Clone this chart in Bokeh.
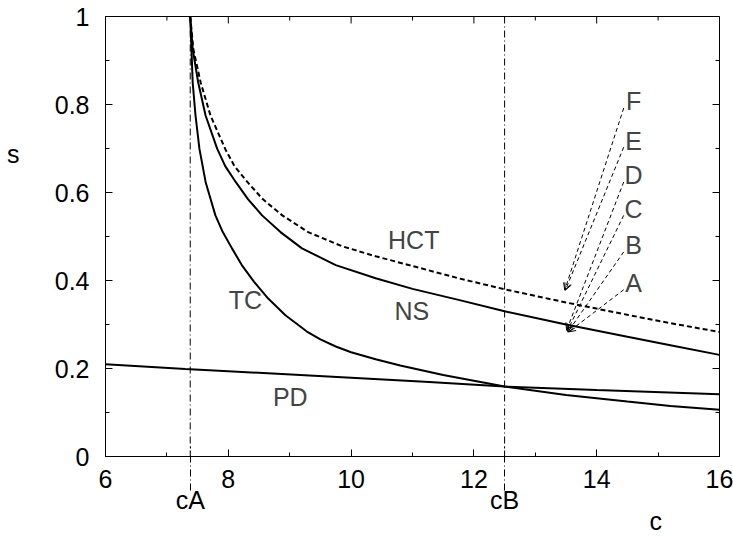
from bokeh.plotting import figure
from bokeh.models import Label, Arrow, OpenHead, LinearAxis, FixedTicker, Range1d, Span
from bokeh.embed import file_html
from bokeh.resources import INLINE

# ---- data ----
c_A = 7.38
c_B = 12.5

tc_c = [7.38, 7.40, 7.42, 7.466, 7.53, 7.63, 7.79, 7.91, 8.06, 8.22, 8.42, 8.65, 8.93, 9.28, 9.5, 9.75, 10.0, 10.4, 10.8, 11.5, 12.5, 13.5, 14.5, 15.2, 16.0]
tc_s = [1.00, 0.926, 0.85, 0.775, 0.699, 0.624, 0.548, 0.51, 0.473, 0.435, 0.397, 0.359, 0.321, 0.284, 0.266, 0.250, 0.237, 0.221, 0.207, 0.185, 0.159, 0.140, 0.125, 0.115, 0.106]

ns_c = [7.38, 7.42, 7.51, 7.63, 7.82, 7.95, 8.12, 8.32, 8.55, 8.85, 9.20, 9.75, 10.40, 11.0, 11.75, 12.5, 13.5, 14.5, 15.2, 16.0]
ns_s = [1.00, 0.926, 0.85, 0.775, 0.699, 0.66, 0.624, 0.585, 0.548, 0.51, 0.473, 0.435, 0.405, 0.381, 0.356, 0.330, 0.300, 0.272, 0.253, 0.231]

hct_c = [7.38, 7.43, 7.55, 7.71, 7.95, 8.10, 8.31, 8.56, 8.88, 9.30, 9.85, 10.4, 11.0, 11.75, 12.5, 13.5, 14.5, 15.2, 16.0]
hct_s = [1.00, 0.926, 0.85, 0.775, 0.699, 0.66, 0.624, 0.585, 0.548, 0.51, 0.478, 0.455, 0.433, 0.405, 0.380, 0.350, 0.322, 0.303, 0.283]

pd_c = [6.0, 7.3, 8.0, 10.0, 11.2, 12.5, 14.0, 16.0]
pd_s = [0.2095, 0.199, 0.194, 0.179, 0.170, 0.159, 0.151, 0.1415]

x_ticks = [6, 8, 10, 12, 14, 16]
x_minor = [7, 9, 11, 13, 15]
y_ticks = [0, 0.2, 0.4, 0.6, 0.8, 1]
y_minor = [0.1, 0.3, 0.5, 0.7, 0.9]

point_names = ["A", "B", "C", "D", "E", "F"]
point_label_s = [0.394, 0.480, 0.563, 0.639, 0.718, 0.807]
point_target_c = [13.54, 13.53, 13.52, 13.51, 13.49, 13.48]
point_target_s = [0.283, 0.283, 0.285, 0.287, 0.378, 0.378]

FONT = "Liberation Sans"
FS = "25px"

p = figure(width=733, height=537, x_range=Range1d(6, 16), y_range=Range1d(0, 1),
           output_backend="svg", toolbar_location=None,
           min_border_left=105, min_border_right=14, min_border_top=16, min_border_bottom=80)
p.grid.visible = False
p.outline_line_color = "black"
p.outline_line_width = 1
p.background_fill_color = "white"
p.border_fill_color = "white"

def style_axis(ax, ticks, minor):
    ax.ticker = FixedTicker(ticks=ticks, minor_ticks=minor)
    ax.axis_line_color = "black"
    ax.major_tick_in = 7
    ax.major_tick_out = 0
    ax.minor_tick_in = 4
    ax.minor_tick_out = 0
    ax.major_tick_line_color = "black"
    ax.minor_tick_line_color = "black"
    ax.major_label_text_font = FONT
    ax.major_label_text_color = "black"
    ax.major_label_text_font_size = FS

style_axis(p.xaxis[0], x_ticks, x_minor)
p.xaxis[0].major_label_standoff = 13
style_axis(p.yaxis[0], y_ticks, y_minor)
p.yaxis[0].major_label_standoff = 16
p.yaxis[0].major_label_overrides = {0: "0", 1: "1"}

# secondary bottom axis: cA / cB markers extending below the frame
mark_axis = LinearAxis(ticker=FixedTicker(ticks=[c_A, c_B], minor_ticks=[]),
                       major_label_overrides={c_A: "cA", c_B: "cB"})
mark_axis.axis_line_color = None
mark_axis.major_tick_in = 44
mark_axis.major_tick_out = 0
mark_axis.major_tick_line_dash = "7 3 1 3"
mark_axis.major_tick_line_color = "black"
mark_axis.minor_tick_line_color = None
mark_axis.major_label_standoff = -5
mark_axis.major_label_text_font = FONT
mark_axis.major_label_text_font_size = FS
mark_axis.major_label_text_color = "black"
p.add_layout(mark_axis, "below")

# axis title "c" placed at its own position
c_axis = LinearAxis(ticker=FixedTicker(ticks=[14.96], minor_ticks=[]),
                    major_label_overrides={14.96: "c"})
c_axis.axis_line_color = None
c_axis.major_tick_line_color = None
c_axis.minor_tick_line_color = None
c_axis.major_tick_in = 0
c_axis.major_tick_out = 0
c_axis.major_label_standoff = -10
c_axis.major_label_text_font = FONT
c_axis.major_label_text_font_size = FS
c_axis.major_label_text_color = "black"
p.add_layout(c_axis, "below")

# axis title "s"
s_axis = LinearAxis(ticker=FixedTicker(ticks=[0.688], minor_ticks=[]),
                    major_label_overrides={0.688: "s"})
s_axis.axis_line_color = None
s_axis.major_tick_line_color = None
s_axis.minor_tick_line_color = None
s_axis.major_tick_in = 0
s_axis.major_tick_out = 0
s_axis.major_label_standoff = 32
s_axis.major_label_text_font = FONT
s_axis.major_label_text_font_size = FS
s_axis.major_label_text_color = "black"
p.add_layout(s_axis, "left")

# mirrored ticks on top and right
MAJ_X, MIN_X = 7 / 61.4, 4 / 61.4
MAJ_Y, MIN_Y = 7 / 441, 4 / 441
p.segment(x0=x_ticks, x1=x_ticks, y0=[1] * len(x_ticks), y1=[1 - MAJ_Y] * len(x_ticks), line_color="black")
p.segment(x0=x_minor, x1=x_minor, y0=[1] * len(x_minor), y1=[1 - MIN_Y] * len(x_minor), line_color="black")
p.segment(x0=[16] * len(y_ticks), x1=[16 - MAJ_X] * len(y_ticks), y0=y_ticks, y1=y_ticks, line_color="black")
p.segment(x0=[16] * len(y_minor), x1=[16 - MIN_X] * len(y_minor), y0=y_minor, y1=y_minor, line_color="black")

# vertical markers at cA and cB
for cx in (c_A, c_B):
    p.add_layout(Span(location=cx, dimension="height", line_color="black",
                      line_width=1, line_dash="7 3 1 3"))

# curves
p.line(tc_c, tc_s, line_color="black", line_width=2)
p.line(ns_c, ns_s, line_color="black", line_width=2)
p.line(pd_c, pd_s, line_color="black", line_width=2)
p.line(hct_c, hct_s, line_color="black", line_width=2, line_dash="5 3")

# arrows from point labels
for name, ls, tc, ts in zip(point_names, point_label_s, point_target_c, point_target_s):
    p.add_layout(Arrow(end=OpenHead(size=7, line_color="black", line_width=1),
                       x_start=14.44, y_start=ls - 0.015, x_end=tc, y_end=ts,
                       line_color="black", line_width=1, line_dash="4 3"))
    p.add_layout(Label(x=14.6, y=ls, text=name, text_font=FONT, text_font_size=FS,
                       text_align="center", text_baseline="middle"))

def txt(x, y, t):
    p.add_layout(Label(x=x, y=y, text=t, text_font=FONT, text_font_size=FS,
                       text_align="center", text_baseline="middle"))

txt(11.02, 0.491, "HCT")
txt(10.99, 0.330, "NS")
txt(8.28, 0.355, "TC")
txt(9.01, 0.135, "PD")

open("out.html", "w").write(file_html(p, INLINE))
